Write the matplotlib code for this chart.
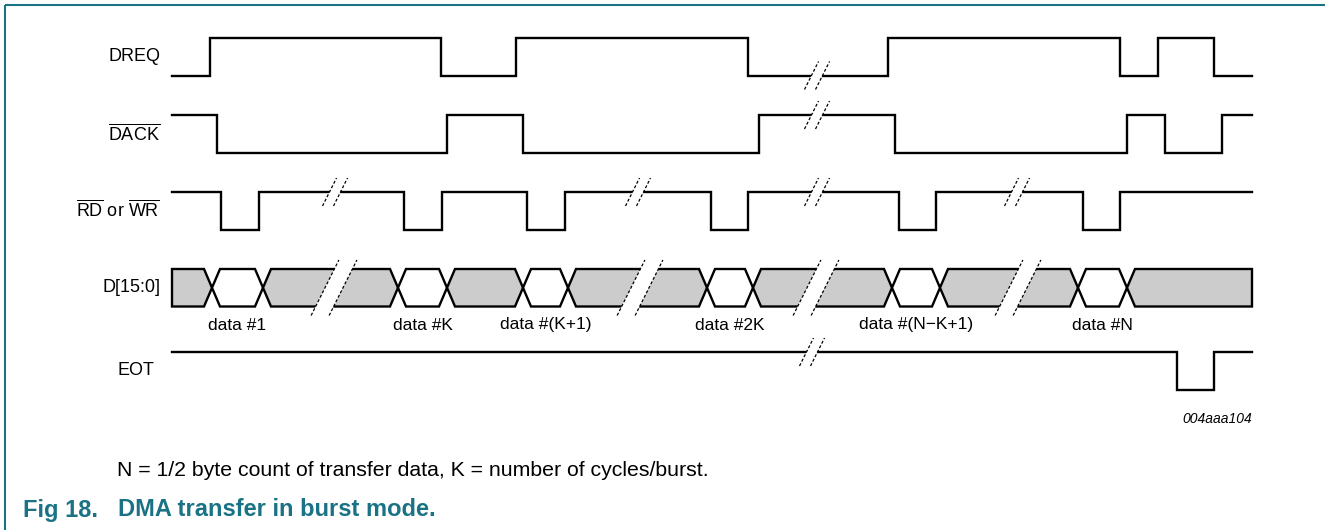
import matplotlib.pyplot as plt
import numpy as np
from matplotlib.patches import Polygon

plt.rcParams['font.family'] = ['Liberation Sans', 'DejaVu Sans']
plt.rcParams['mathtext.fontset'] = 'custom'
plt.rcParams['mathtext.rm'] = 'Liberation Sans'

# time span of the diagram (drawing units)
t_start, t_end = 172, 1252

# signal names (mathtext overline = active low)
names = ["DREQ", r"$\overline{\mathrm{DACK}}$",
         r"$\overline{\mathrm{RD}}$ or $\overline{\mathrm{WR}}$", "D[15:0]", "EOT"]

# edge times and starting level (1 = high)
dreq_edges = [210, 441, 516, 748, 888, 1120, 1158, 1214]
dreq_init = 0
dack_edges = [217, 447, 523, 759, 895, 1127, 1165, 1222]
dack_init = 1
rdwr_edges = [221, 259, 404, 442, 527, 565, 711, 748, 899, 936, 1083, 1120]
rdwr_init = 1
eot_edges = [1177, 1214]
eot_init = 1

# bus crossings; the windows between pairs hold valid data
bus_cross = [212, 263, 398, 447, 523, 568, 707, 753, 892, 940, 1078, 1127]
data_labels = ["data #1", "data #K", "data #(K+1)", "data #2K",
               "data #(N\u2212K+1)", "data #N"]

# time breaks (//) on each row
dreq_breaks = [817]
dack_breaks = [817]
rdwr_breaks = [335, 638, 817, 1017]
bus_breaks = [334, 640, 816, 1018]
eot_breaks = [812]

# layout
row_top = [38, 115, 192, 269, 352]
amp = 37.5
label_x = 160
lw = 1.7
teal = "#1a7285"

fig = plt.figure(figsize=(13.25, 5.3), dpi=100)
ax = fig.add_axes([0, 0, 1, 1])
ax.set_xlim(0, 1325)
ax.set_ylim(530, 0)
ax.axis('off')


def wave(edges, init):
    xs, ys, lvl = [t_start], [init], init
    for e in edges:
        xs += [e, e]
        ys += [lvl, 1 - lvl]
        lvl = 1 - lvl
    xs.append(t_end)
    ys.append(lvl)
    return np.array(xs), np.array(ys)


def level_at(edges, init, t):
    n = sum(1 for e in edges if e < t)
    return init if n % 2 == 0 else 1 - init


def slashes(xc, yc, hh, gap):
    dx = hh / 2.0
    for side in (-1, 1):
        x0 = xc + side * gap / 2
        ax.plot([x0 - dx, x0 + dx], [yc + hh, yc - hh], color='black', lw=0.9,
                linestyle=(0, (2.4, 1.6)), zorder=6)


def cut(xc, yc, half, hh, gap):
    # white parallelogram between the two slashes, covering +-half around yc
    k = half / hh * (hh / 2.0)
    poly = [(xc - gap / 2 - k, yc + half), (xc + gap / 2 - k, yc + half),
            (xc + gap / 2 + k, yc - half), (xc - gap / 2 + k, yc - half)]
    ax.add_patch(Polygon(poly, closed=True, fc='white', ec='none', zorder=5))
    slashes(xc, yc, hh, gap)


# digital signals
digital = [(dreq_edges, dreq_init, dreq_breaks, 0),
           (dack_edges, dack_init, dack_breaks, 1),
           (rdwr_edges, rdwr_init, rdwr_breaks, 2),
           (eot_edges, eot_init, eot_breaks, 4)]
for edges, init, breaks, r in digital:
    xs, ys = wave(edges, init)
    ax.plot(xs, row_top[r] + (1 - ys) * amp, color='black', lw=lw,
            solid_joinstyle='miter', zorder=3)
    for b in breaks:
        lvl = level_at(edges, init, b)
        cut(b, row_top[r] + (1 - lvl) * amp, 5, 14, 11)

# bus row
top = row_top[3]
bot = top + amp
mid = (top + bot) / 2
h = 8
bounds = [t_start] + bus_cross + [t_end]
for i in range(len(bounds) - 1):
    a, b = bounds[i], bounds[i + 1]
    valid = i % 2 == 1
    pts = []
    if a == t_start:
        pts += [(a, bot), (a, top)]
    else:
        pts += [(a, mid), (a + h, top)]
    if b == t_end:
        pts += [(b, top), (b, bot)]
    else:
        pts += [(b - h, top), (b, mid), (b - h, bot)]
    if a != t_start:
        pts += [(a + h, bot)]
    ax.add_patch(Polygon(pts, closed=True, fc='white' if valid else '#cccccc',
                         ec='black', lw=lw, joinstyle='miter', zorder=3))
    if valid:
        ax.text((a + b) / 2, 325, data_labels[i // 2], ha='center', va='center',
                fontsize=12.5)

for b in bus_breaks:
    cut(b, mid, (bot - top) / 2 + 2, (bot - top) / 2 + 9, 18)

# row labels
for r, name in enumerate(names):
    ax.text(label_x if r != 4 else 154, row_top[r] + amp / 2, name,
            ha='right', va='center', fontsize=13)

ax.text(t_end, 419, "004aaa104", ha='right', va='center', fontsize=10,
        style='italic')
ax.text(117, 470, "N = 1/2 byte count of transfer data, K = number of cycles/burst.",
        ha='left', va='center', fontsize=15.3)
ax.text(23, 510, "Fig 18.", ha='left', va='center', fontsize=17,
        fontweight='bold', color=teal)
ax.text(118, 510, "DMA transfer in burst mode.", ha='left', va='center',
        fontsize=17, fontweight='bold', color=teal)

# frame
ax.plot([5, 1325], [5, 5], color=teal, lw=1.5, solid_capstyle='butt')
ax.plot([5, 5], [5, 530], color=teal, lw=1.5, solid_capstyle='butt')

fig.savefig("out.png", dpi=100)
